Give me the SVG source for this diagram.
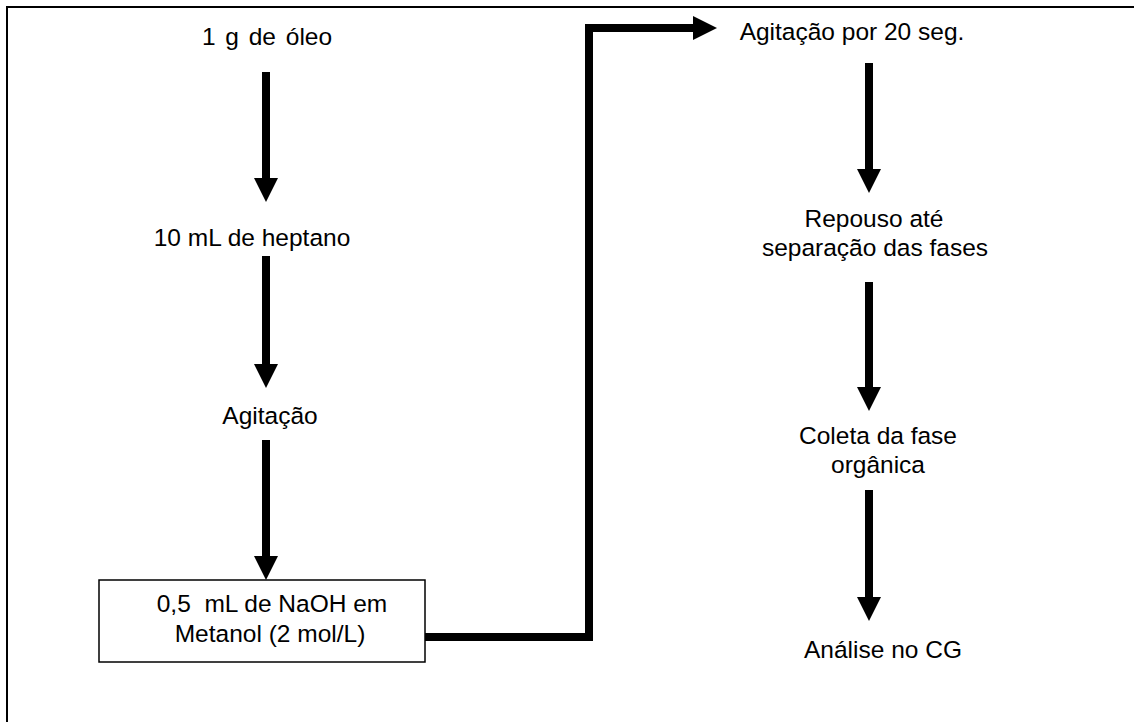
<svg xmlns="http://www.w3.org/2000/svg" width="1134" height="722" viewBox="0 0 1134 722">
  <style>
    .lbl { font-family: "Liberation Sans", Arial, sans-serif; font-size: 24.5px; fill: #000; text-anchor: middle; }
    .flow { stroke: #000; stroke-width: 8; fill: none; }
    .frame { stroke: #000; stroke-width: 2; fill: none; }
    .box { stroke: #000; stroke-width: 1.5; fill: #fff; }
  </style>
  <defs>
    <marker id="head" markerUnits="userSpaceOnUse" markerWidth="24" markerHeight="24" viewBox="0 0 24 24" refX="0" refY="12" orient="auto">
      <path d="M0,0 L24,12 L0,24 Z" fill="#000"/>
    </marker>
  </defs>

  <!-- page frame (right and bottom edges fall outside the canvas) -->
  <rect class="frame" x="7" y="7" width="1140" height="730"/>

  <g id="connectors">
    <line class="flow" x1="266" y1="72" x2="266" y2="178" marker-end="url(#head)"/>
    <line class="flow" x1="266" y1="256" x2="266" y2="364" marker-end="url(#head)"/>
    <line class="flow" x1="266" y1="440" x2="266" y2="556" marker-end="url(#head)"/>
    <polyline class="flow" points="425,637 589,637 589,28 693,28" marker-end="url(#head)"/>
    <line class="flow" x1="869" y1="63" x2="869" y2="169" marker-end="url(#head)"/>
    <line class="flow" x1="869" y1="282" x2="869" y2="387" marker-end="url(#head)"/>
    <line class="flow" x1="869" y1="490" x2="869" y2="597" marker-end="url(#head)"/>
  </g>

  <g id="oleo"><text class="lbl" x="267" y="45" word-spacing="3">1 g de óleo</text></g>
  <g id="heptano"><text class="lbl" x="252" y="246">10 mL de heptano</text></g>
  <g id="agitacao"><text class="lbl" x="270" y="424">Agitação</text></g>
  <g id="naoh">
    <rect class="box" x="99" y="580" width="326" height="82"/>
    <text class="lbl" x="272" y="612" xml:space="preserve">0,5  mL de NaOH em</text>
    <text class="lbl" x="270" y="642">Metanol (2 mol/L)</text>
  </g>
  <g id="agitacao20"><text class="lbl" x="852" y="40">Agitação por 20 seg.</text></g>
  <g id="repouso">
    <text class="lbl" x="874" y="227">Repouso até</text>
    <text class="lbl" x="875" y="256">separação das fases</text>
  </g>
  <g id="coleta">
    <text class="lbl" x="878" y="444">Coleta da fase</text>
    <text class="lbl" x="878" y="473">orgânica</text>
  </g>
  <g id="analise"><text class="lbl" x="883" y="658">Análise no CG</text></g>
</svg>
